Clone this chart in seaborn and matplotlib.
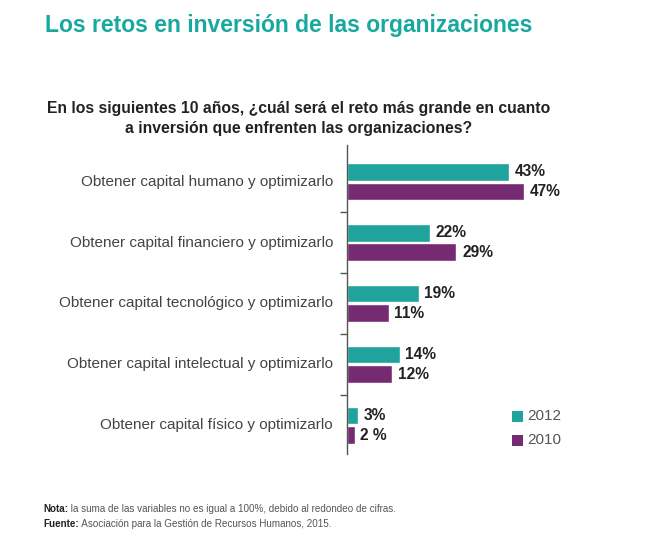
import matplotlib
matplotlib.use("Agg")
import matplotlib.pyplot as plt
import seaborn as sns
import pandas as pd
from matplotlib.patches import Rectangle

categories = [
    "Obtener capital humano y optimizarlo",
    "Obtener capital financiero y optimizarlo",
    "Obtener capital tecnológico y optimizarlo",
    "Obtener capital intelectual y optimizarlo",
    "Obtener capital físico y optimizarlo",
]
years = ["2012", "2010"]
values_2012 = [43, 22, 19, 14, 3]
values_2010 = [47, 29, 11, 12, 2]
labels_2012 = ["43%", "22%", "19%", "14%", "3%"]
labels_2010 = ["47%", "29%", "11%", "12%", "2 %"]

TEAL = "#1fa39c"
PURPLE = "#762a72"

sns.set_theme(style="white")
plt.rcParams["font.family"] = ["Liberation Sans", "DejaVu Sans"]

df = pd.DataFrame({
    "categoria": categories * 2,
    "valor": values_2012 + values_2010,
    "anio": ["2012"] * len(categories) + ["2010"] * len(categories),
})

W, H = 666, 557
fig = plt.figure(figsize=(W / 100, H / 100), dpi=100)
ax_left, ax_right, ax_top, ax_bot = 347, 649, 145, 454
ax = fig.add_axes([ax_left / W, 1 - ax_bot / H, (ax_right - ax_left) / W, (ax_bot - ax_top) / H])

sns.barplot(data=df, y="categoria", x="valor", hue="anio", hue_order=years,
            palette={"2012": TEAL, "2010": PURPLE}, orient="h", width=0.64,
            gap=0.1, ax=ax, legend=False, saturation=1)

ax.set_xlim(0, 80)
ax.set_ylim(4.47, -0.6)
ax.set_xlabel("")
ax.set_ylabel("")
ax.set_xticks([])
ax.set_yticks([0.5, 1.5, 2.5, 3.5])
ax.set_yticklabels([])
ax.tick_params(axis="y", which="major", direction="out", length=5, width=1, color="#555555", left=True)
for s in ["top", "right", "bottom"]:
    ax.spines[s].set_visible(False)
ax.spines["left"].set_color("#555555")
ax.spines["left"].set_linewidth(1)

# bar value labels
for container, labels in zip(ax.containers, [labels_2012, labels_2010]):
    ax.bar_label(container, labels=labels, padding=4, fontsize=11.2, fontweight="bold", color="#222222")

# category labels
for i, cat in enumerate(categories):
    ax.text(-3.7, i, cat, ha="right", va="center", fontsize=11, color="#444444",
            transform=ax.transData, clip_on=False)

# title and subtitle
fig.text(45 / W, 1 - 32 / H, "Los retos en inversión de las organizaciones",
         fontsize=16.5, fontweight="bold", color="#17a99e", ha="left", va="baseline")
fig.text(299 / W, 1 - 113 / H, "En los siguientes 10 años, ¿cuál será el reto más grande en cuanto",
         fontsize=11.35, fontweight="bold", color="#222222", ha="center", va="baseline")
fig.text(299 / W, 1 - 133 / H, "a inversión que enfrenten las organizaciones?",
         fontsize=11.35, fontweight="bold", color="#222222", ha="center", va="baseline")

# legend
for j, (yr, col) in enumerate(zip(years, [TEAL, PURPLE])):
    yc = 416 + j * 24
    fig.patches.append(Rectangle((512 / W, 1 - (yc + 5.5) / H), 11 / W, 11 / H,
                                 transform=fig.transFigure, facecolor=col, edgecolor="none"))
    fig.text(527 / W, 1 - yc / H, yr, fontsize=11, color="#555555", ha="left", va="center")

# footnotes
notes = [("Nota:", " la suma de las variables no es igual a 100%, debido al redondeo de cifras.", 512),
         ("Fuente:", " Asociación para la Gestión de Recursos Humanos, 2015.", 527)]
for bold, rest, yb in notes:
    t = fig.text(43 / W, 1 - yb / H, bold, fontsize=7.15, fontweight="bold", color="#222222",
                 ha="left", va="baseline")
    ax.annotate(rest, xy=(1, 0), xycoords=t, ha="left", va="bottom", fontsize=7.15,
                color="#555555", annotation_clip=False)

fig.savefig("out.png", dpi=100, facecolor="white")
